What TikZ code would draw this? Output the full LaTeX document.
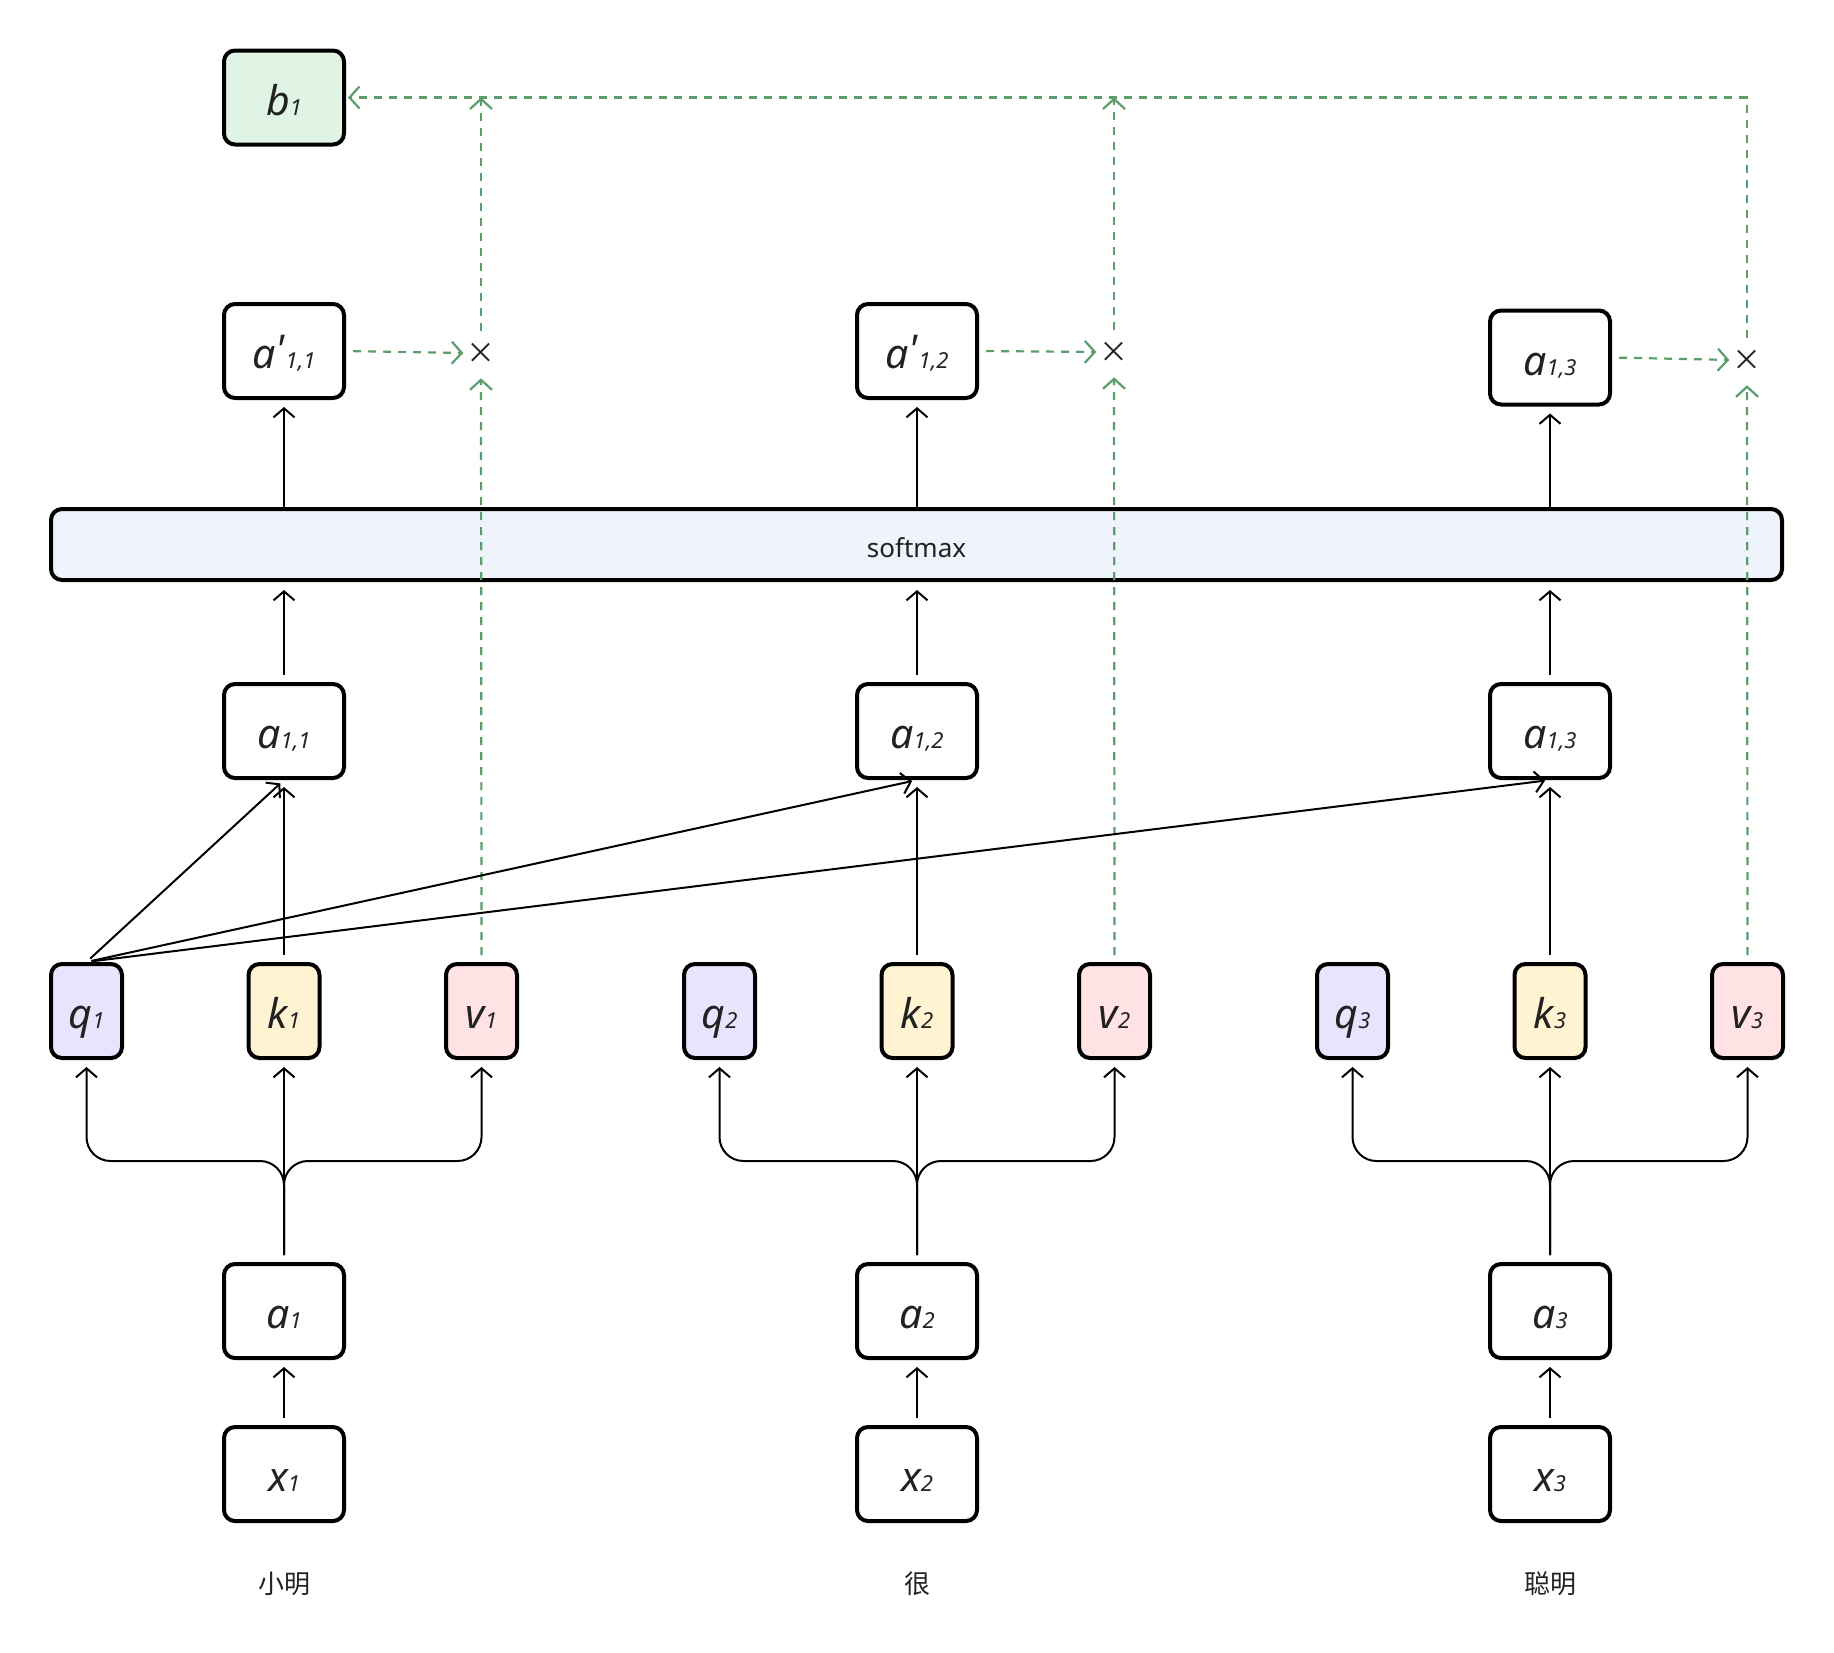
\documentclass[tikz,border=0pt]{standalone}
\usepackage{fontspec}
\usetikzlibrary{arrows.meta,calc}
\newfontfamily\labfont{Noto Sans}
\newfontfamily\cjkfont{Noto Sans CJK SC}
\definecolor{txt}{HTML}{222222}
\definecolor{qfill}{HTML}{E9E3FD}
\definecolor{kfill}{HTML}{FFF3D1}
\definecolor{vfill}{HTML}{FFE3E4}
\definecolor{bfill}{HTML}{DFF4E4}
\definecolor{smfill}{HTML}{EEF3FC}
\definecolor{grn}{HTML}{5B9E6C}
\newcommand\lbl[2]{{\fontsize{41pt}{44pt}\selectfont #1}{\fontsize{22pt}{24pt}\selectfont #2}}
\newcommand\prm{\raisebox{4pt}{\fontsize{41pt}{44pt}\selectfont '}\hspace{1pt}}
\tikzset{
  box/.style={draw=black, line width=4pt, rounded corners=11pt, minimum width=120pt,
    minimum height=94pt, inner sep=0pt, text=txt, font=\labfont\itshape,
    text height=35.5pt, text depth=0pt},
  qkv/.style={box, minimum width=71pt},
  arr/.style={line width=2pt, black, -{Straight Barb[length=9pt,width=21pt]},
    shorten <=7pt, shorten >=7pt},
  garr/.style={line width=2.2pt, grn, dash pattern=on 8pt off 7pt,
    -{Straight Barb[length=10pt,width=22pt]}},
  mult/.style={inner sep=0pt, text=txt, font=\cjkfont\fontsize{29pt}{32pt}\selectfont},
  word/.style={inner sep=0pt, text=txt, font=\cjkfont\fontsize{26pt}{30pt}\selectfont}
}
\begin{document}
\begin{tikzpicture}[x=1pt,y=-1pt]
\useasboundingbox (0,0) rectangle (1834,1652);
\fill[white] (0,0) rectangle (1834,1652);

% top output
\node[box, fill=bfill] (b1) at (284,97.5) {\lbl{b}{1}};

% softmax bar
\node[box, fill=smfill, minimum width=1731pt, minimum height=71pt, font=\labfont\fontsize{26pt}{30pt}\selectfont,
  text height=25pt] (sm) at (916.5,544.5) {softmax};

% attention after softmax
\node[box] (ap1) at (284,351) {\lbl{a\prm}{1,1}};
\node[box] (ap2) at (917,351) {\lbl{a\prm}{1,2}};
\node[box] (ap3) at (1550,357.5) {\lbl{a}{1,3}};

% multiply marks
\node[mult] (m1) at (481,353) {×};
\node[mult] (m2) at (1114,352) {×};
\node[mult] (m3) at (1747,360) {×};

\foreach \i/\cx in {1/284, 2/917, 3/1550} {
  \node[box] (x\i) at (\cx,1474) {\lbl{x}{\i}};
  \node[box] (a\i) at (\cx,1311) {\lbl{a}{\i}};
  \node[qkv, fill=qfill] (q\i) at (\cx-197.5,1011) {\lbl{q}{\i}};
  \node[qkv, fill=kfill] (k\i) at (\cx,1011) {\lbl{k}{\i}};
  \node[qkv, fill=vfill] (v\i) at (\cx+197.5,1011) {\lbl{v}{\i}};
  \node[box] (s\i) at (\cx,731) {\lbl{a}{1,\i}};
  \coordinate (j\i) at (\cx,1161);
}

\node[word] (w1) at (284,1584) {小明};
\node[word] (w2) at (917,1584) {很};
\node[word] (w3) at (1550,1584) {聪明};

% green value paths
\foreach \i in {1,2,3} {
  \draw[garr, shorten <=7pt, shorten >=15pt] (v\i.north) -- (m\i.south);
  \draw[garr, shorten <=7pt, shorten >=3pt] (ap\i.east) -- (m\i.west);
}
\draw[garr, shorten <=12pt] (m1.north) -- (m1.north |- b1.east);
\draw[garr, shorten <=12pt] (m2.north) -- (m2.north |- b1.east);
\draw[garr, shorten <=12pt, shorten >=2pt] (m3.north) |- (b1.east);

% black flows
\foreach \i in {1,2,3} {
  \draw[arr] (x\i.north) -- (a\i.south);
  \draw[arr] (a\i.north) -- (k\i.south);
  \draw[arr, rounded corners=24pt] (a\i.north) -- (j\i) -| (q\i.south);
  \draw[arr, rounded corners=24pt] (a\i.north) -- (j\i) -| (v\i.south);
  \draw[arr] (k\i.north) -- (s\i.south);
  \draw[arr, shorten >=8pt] (s\i.north) -- (s\i.north |- sm.south);
  \draw[arr, shorten <=0pt] (ap\i.south |- sm.north) -- (ap\i.south);
  \draw[arr, shorten <=5pt, shorten >=5pt] (q1.north) -- (s\i.south);
}
\end{tikzpicture}
\end{document}
